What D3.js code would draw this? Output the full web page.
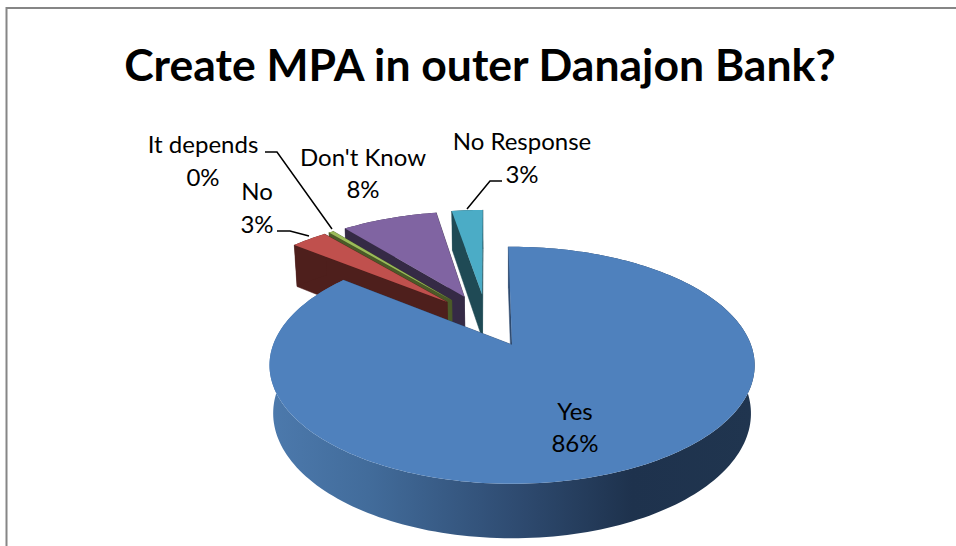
<!DOCTYPE html>
<html>
<head>
<meta charset="utf-8">
<script src="https://cdn.jsdelivr.net/npm/d3@7/dist/d3.min.js"></script>
<style>
  html, body { margin: 0; padding: 0; background: #fff; }
  svg { display: block; }
  text { font-family: Lato, "Open Sans", sans-serif; fill: #000; }
</style>
</head>
<body>
<svg id="chart" width="956" height="546"></svg>
<script>
const title = "Create MPA in outer Danajon Bank?";
const categories = ["Yes", "No", "It depends", "Don't Know", "No Response"];
const shares = [86, 3, 0.4, 8, 2.6];
const shareLabels = ["86%", "3%", "0%", "8%", "3%"];
const topColors = ["#4f81bd", "#c0504d", "#9bbb59", "#8064a2", "#4bacc6"];
const wallColors = ["#2f4b70", "#4e1f1c", "#4b5a28", "#352a45", "#1f4a55"];

const width = 956, height = 546;
const svg = d3.select("#chart");

// Perspective pie: the disc lives in unit coordinates (u right, v toward the viewer,
// z downward through the thickness) and is projected onto the page.
const originX = 511, originY = 345;
const spreadX = 239, spreadY = 115, thickness = 48;
const tilt = 0.173, taper = 0.015;
function project(u, v, z) {
  const p = 1 / (1 - tilt * v + taper * z);
  return [originX + spreadX * u * p, originY + (spreadY * v + thickness * z) * p];
}

// Every slice is pulled out from the shared hub along its own mid angle.
const hubU = -0.106, hubV = -0.226, explode = 0.25;
const startDeg = -1;
const pie = d3.pie().sort(null)
  .startAngle(startDeg * Math.PI / 180)
  .endAngle((startDeg + 360) * Math.PI / 180);
const arcs = pie(shares);

const line = d3.line();
function sliceGeometry(a) {
  const mid = (a.startAngle + a.endAngle) / 2;
  const apexU = hubU + explode * Math.sin(mid);
  const apexV = hubV - explode * Math.cos(mid);
  const steps = d3.range(0, 1.0001, 1 / Math.max(2, Math.ceil((a.endAngle - a.startAngle) * 40)));
  const rim = steps.map(t => {
    const ang = a.startAngle + t * (a.endAngle - a.startAngle);
    return [apexU + Math.sin(ang), apexV - Math.cos(ang)];
  });
  return { apex: [apexU, apexV], rim };
}
const at = (pt, z) => project(pt[0], pt[1], z);

const defs = svg.append("defs");
const wallGradient = defs.append("linearGradient")
  .attr("id", "yes-wall").attr("gradientUnits", "userSpaceOnUse")
  .attr("x1", 272).attr("x2", 752).attr("y1", 0).attr("y2", 0);
[[0, "#4c79ac"], [0.2, "#426c9b"], [0.5, "#2f4c72"], [0.75, "#1e324d"], [1, "#20354f"]]
  .forEach(([o, c]) => wallGradient.append("stop").attr("offset", o).attr("stop-color", c));

// Frame of the chart area
svg.append("path")
  .attr("d", line([[6.5, height + 2], [6.5, 8], [width + 2, 8]]))
  .attr("fill", "none").attr("stroke", "#868686").attr("stroke-width", 2);

svg.append("text").attr("x", 480).attr("y", 81)
  .attr("text-anchor", "middle").attr("font-size", 44.5).attr("font-weight", 700)
  .text(title);

// Far slices first, then toward the large front slice
const paintOrder = [4, 3, 2, 1, 0];
paintOrder.forEach(i => {
  const g = svg.append("g").attr("class", "slice");
  const { apex, rim } = sliceGeometry(arcs[i]);
  const wallFill = i === 0 ? "url(#yes-wall)" : wallColors[i];
  const wall = pts => g.append("path").attr("d", line(pts) + "Z")
    .attr("fill", i === 0 ? wallColors[0] : wallFill)
    .attr("stroke", i === 0 ? wallColors[0] : wallFill).attr("stroke-width", 0.5);

  wall([at(apex, 0), at(rim[rim.length - 1], 0), at(rim[rim.length - 1], 1), at(apex, 1)]);
  wall([at(apex, 0), at(rim[0], 0), at(rim[0], 1), at(apex, 1)]);
  g.append("path")
    .attr("d", line(rim.map(p => at(p, 0)).concat(rim.slice().reverse().map(p => at(p, 1)))) + "Z")
    .attr("fill", wallFill);
  g.append("path")
    .attr("d", line([at(apex, 0)].concat(rim.map(p => at(p, 0)))) + "Z")
    .attr("fill", topColors[i]);
});

// Leader lines from the outside labels to their slices
const leaders = [
  [[277, 231], [290, 231], [309, 236]],
  [[265, 152], [277, 152], [332, 229]],
  [[502, 181], [490, 181], [467, 209]]
];
svg.append("g").selectAll("path").data(leaders).join("path")
  .attr("d", d => line(d)).attr("fill", "none")
  .attr("stroke", "#000").attr("stroke-width", 1.5);

// Two-line labels: category above, share below
const labelAnchors = [[575, 420, 452], [257, 200, 233], [203, 153, 186], [363, 166, 198], [522, 150, 183]];
const labels = svg.append("g").attr("font-size", 24).attr("text-anchor", "middle");
categories.forEach((c, i) => {
  const [x, y1, y2] = labelAnchors[i];
  labels.append("text").attr("x", x).attr("y", y1).text(c);
  labels.append("text").attr("x", x).attr("y", y2).text(shareLabels[i]);
});
</script>
</body>
</html>
